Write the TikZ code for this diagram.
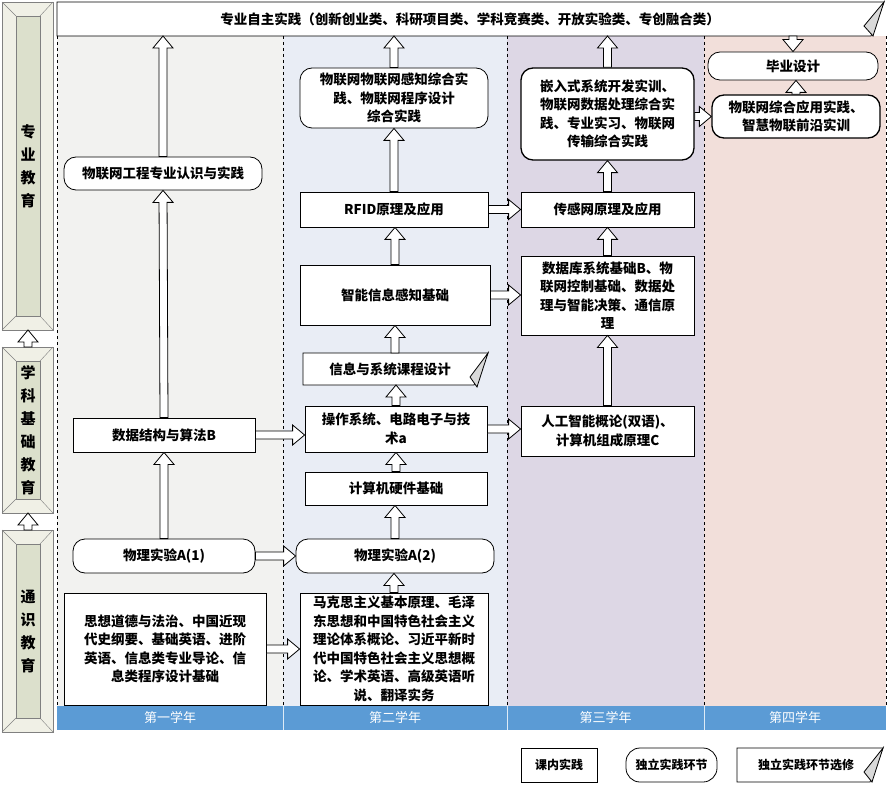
\documentclass[tikz,border=0pt]{standalone}
\usepackage{fontspec}
\setmainfont{Noto Sans CJK SC}
\usetikzlibrary{calc,patterns}
\definecolor{c1}{HTML}{F2F2F0}
\definecolor{c2}{HTML}{E9EDF5}
\definecolor{c3}{HTML}{DDD7E5}
\definecolor{c4}{HTML}{F2DFDA}
\definecolor{yr}{HTML}{5B9BD5}
\definecolor{panO}{HTML}{F0F0E6}
\definecolor{panI}{HTML}{DCE0CC}
\tikzset{
 rbox/.style={draw,thick,fill=white,align=center,inner sep=2pt,font=\fontsize{13.5}{18.5}\selectfont\bfseries},
 rnd/.style={rbox,rounded corners=12pt},
 col/.style={dashed,thick},
 bar/.style={draw=black,fill=white,line width=0.8pt},
}
% block arrow from #1 (tail) to #2 (head)
\newcommand\barw[2]{%
 \draw[bar] ($(#1)!4pt!90:(#2)$) -- ($($(#2)!12pt!(#1)$)!4pt!-90:(#1)$)
  -- ($($(#2)!12pt!(#1)$)!10pt!-90:(#1)$) -- (#2)
  -- ($($(#2)!12pt!(#1)$)!10pt!90:(#1)$) -- ($($(#2)!12pt!(#1)$)!4pt!90:(#1)$)
  -- ($(#1)!4pt!-90:(#2)$) -- cycle;}
\newcommand\panel[3]{% y1 y2 text
 \draw[gray,fill=panO] (2,#1) rectangle (53,#2);
 \draw[gray,fill=panI] (16,#1+14) rectangle (40,#2-14);
 \draw[gray] (2,#1)--(16,#1+14) (53,#1)--(40,#1+14) (2,#2)--(16,#2-14) (53,#2)--(40,#2-14);
 \node[align=center,font=\fontsize{15}{23}\selectfont\bfseries] at (28,{(#1+#2)/2}) {#3};}
\begin{document}
\begin{tikzpicture}[x=1pt,y=-1pt]
\useasboundingbox (0,0) rectangle (896,786);
% columns
\fill[c1] (57,36) rectangle (283,706);
\fill[c2] (283,36) rectangle (507,706);
\fill[c3] (507,36) rectangle (704,706);
\fill[c4] (704,36) rectangle (886,706);
\draw[col] (57,36)--(57,706)--(886,706)--(886,36);
\draw[col] (283,36)--(283,706) (507,36)--(507,706) (704,36)--(704,706);
% year bar
\fill[yr] (57,706) rectangle (886,730);
\draw[white!80!yr] (283,706)--(283,730) (507,706)--(507,730) (704,706)--(704,730);
\foreach \a/\b/\t in {57/283/第一学年,283/507/第二学年,507/704/第三学年,704/886/第四学年}
 \node[white,font=\fontsize{13}{15}\selectfont] at ({(\a+\b)/2},718) {\t};
% left panels
\panel{2}{330}{专\\业\\教\\育}
\panel{347}{513}{学\\科\\基\\础\\教\\育}
\panel{530}{732}{通\\识\\教\\育}
\coordinate (p1a) at (28,347); \coordinate (p1b) at (28,330);
\coordinate (p2a) at (28,530); \coordinate (p2b) at (28,513);
\barw{p1a}{p1b} \barw{p2a}{p2b}
% top banner
\draw[thick,fill=white] (57,2)--(884,2)--(871,36)--(57,36)--cycle;
\draw[thick,fill=gray!30] (884,2)--(864,26)--(873,36)--cycle;
\node[font=\fontsize{13.5}{15}\selectfont\bfseries] (top) at (470,19) {专业自主实践（创新创业类、科研项目类、学科竞赛类、开放实验类、专创融合类）};
\coordinate (topS) at (470,36);
% col1
\node[rnd,minimum width=198pt,minimum height=33pt] (a1) at (163,173.5) {物联网工程专业认识与实践};
\node[rbox,minimum width=182pt,minimum height=34pt] (a2) at (164,435) {数据结构与算法B};
\node[rnd,minimum width=182pt,minimum height=34pt] (a3) at (164,556) {物理实验A(1)};
\node[rbox,minimum width=202pt,minimum height=112pt] (a4) at (165,649) {思想道德与法治、中国近现\\代史纲要、基础英语、进阶\\英语、信息类专业导论、信\\息类程序设计基础};
% col2
\node[rnd,minimum width=188pt,minimum height=60pt] (b1) at (394,98) {物联网物联网感知综合实\\践、物联网程序设计\\综合实践};
\node[rbox,minimum width=188pt,minimum height=35pt] (b2) at (394,209.5) {RFID原理及应用};
\node[rbox,minimum width=190pt,minimum height=60pt] (b3) at (395,295) {智能信息感知基础};
\draw[thick,fill=white] (303,353)--(488,353)--(474,385)--(303,385)--cycle;
\draw[thick,fill=gray!30] (488,353)--(470,377)--(477,387)--cycle;
\node[font=\fontsize{13.5}{15}\selectfont\bfseries] (b4) at (390,369) {信息与系统课程设计};
\coordinate (b4n) at (395,353); \coordinate (b4s) at (395,385);
\node[rbox,minimum width=182pt,minimum height=46pt] (b5) at (396,429) {操作系统、电路电子与技\\术a};
\node[rbox,minimum width=182pt,minimum height=33pt] (b6) at (396,488.5) {计算机硬件基础};
\node[rnd,minimum width=198pt,minimum height=34pt] (b7) at (395,556) {物理实验A(2)};
\node[rbox,minimum width=188pt,minimum height=112pt] (b8) at (394,649) {马克思主义基本原理、毛泽\\东思想和中国特色社会主义\\理论体系概论、习近平新时\\代中国特色社会主义思想概\\论、学术英语、高级英语听\\说、翻译实务};
% col3
\node[rnd,line width=1.3pt,minimum width=173pt,minimum height=92pt] (c1) at (607.5,114) {嵌入式系统开发实训、\\物联网数据处理综合实\\践、专业实习、物联网\\传输综合实践};
\node[rbox,minimum width=173pt,minimum height=35pt] (c2) at (607.5,209.5) {传感网原理及应用};
\node[rbox,minimum width=173pt,minimum height=79pt] (c3) at (607.5,295.5) {数据库系统基础B、物\\联网控制基础、数据处\\理与智能决策、通信原\\理};
\node[rbox,minimum width=173pt,minimum height=50pt] (c4) at (607.5,431) {人工智能概论(双语)、\\计算机组成原理C};
% col4
\node[rnd,minimum width=170pt,minimum height=28pt] (d1) at (793,66) {毕业设计};
\node[rnd,line width=1.3pt,minimum width=168pt,minimum height=43pt] (d2) at (796,116.5) {物联网综合应用实践、\\智慧物联前沿实训};
% vertical arrows
\barw{a1.north}{a1.north|-topS}
\barw{a2.north}{a1.south}
\barw{a3.north}{a2.south}
\barw{b1.north}{b1.north|-topS}
\barw{b2.north}{b2.north|-b1.south}
\barw{b3.north}{b3.north|-b2.south}
\barw{b4n}{b4n|-b3.south}
\barw{b5.north}{b5.north|-b4s}
\barw{b6.north}{b5.south}
\barw{b7.north}{b7.north|-b6.south}
\barw{b8.north}{b8.north|-b7.south}
\barw{c1.north}{c1.north|-topS}
\barw{c2.north}{c1.south}
\barw{c3.north}{c2.south}
\barw{c4.north}{c3.south}
\barw{d1.north|-topS}{d1.north}
\barw{d2.north}{d2.north|-d1.south}
% horizontal arrows
\barw{a2.east}{b5.west|-a2.east}
\barw{a3.east}{b7.west}
\barw{a4.east}{b8.west}
\barw{b5.east}{c4.west|-b5.east}
\barw{b3.east}{c3.west|-b3.east}
\barw{b2.east}{c2.west}
\barw{c1.east|-d2.west}{d2.west}
% legend
\node[draw,thick,minimum width=76pt,minimum height=34pt,font=\fontsize{12}{13}\selectfont\bfseries] (l1) at (559,765) {课内实践};
\node[draw,thick,rounded corners=14pt,minimum width=91pt,minimum height=34pt,font=\fontsize{12}{13}\selectfont\bfseries] (l2) at (671.5,765) {独立实践环节};
\draw[thick,fill=white] (737,748)--(883,748)--(870,782)--(737,782)--cycle;
\draw[thick,fill=gray!30] (883,748)--(864,772)--(872,782)--cycle;
\node[font=\fontsize{12}{13}\selectfont\bfseries] (l3) at (806,765) {独立实践环节选修};
\end{tikzpicture}
\end{document}
